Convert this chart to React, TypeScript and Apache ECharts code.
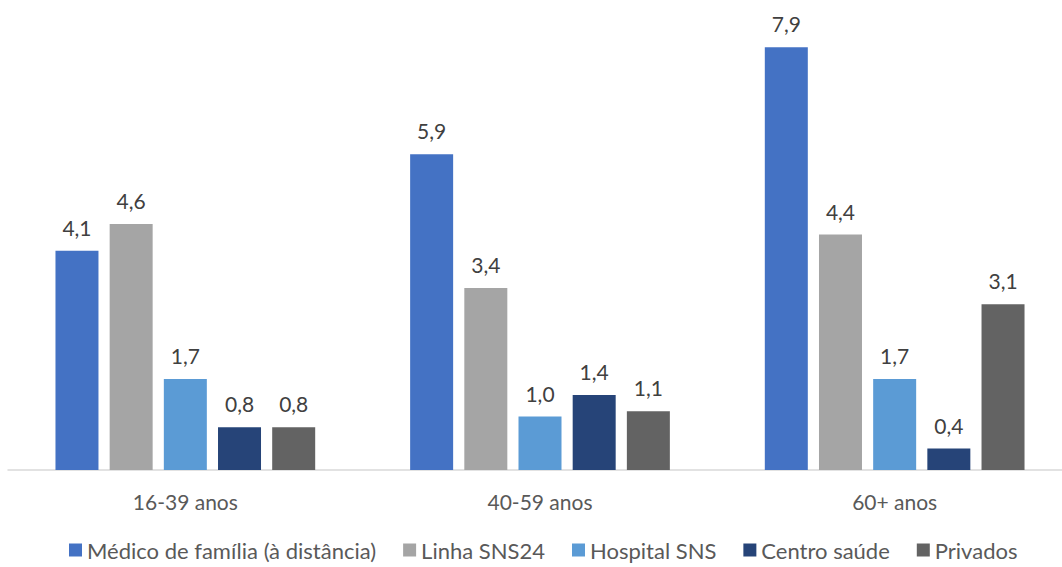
import React, { useEffect, useRef } from "react";
import * as echarts from "echarts";

const categories = ["16-39 anos", "40-59 anos", "60+ anos"];
const seriesNames = [
  "Médico de família (à distância)",
  "Linha SNS24",
  "Hospital SNS",
  "Centro saúde",
  "Privados",
];
const medicoFamilia = [4.1, 5.9, 7.9];
const linhaSNS24 = [4.6, 3.4, 4.4];
const hospitalSNS = [1.7, 1.0, 1.7];
const centroSaude = [0.8, 1.4, 0.4];
const privados = [0.8, 1.1, 3.1];
const colors = ["#4472C4", "#A5A5A5", "#5B9BD5", "#264478", "#636363"];

const FONT = "Lato, 'Open Sans', sans-serif";

export default function App() {
  const ref = useRef<HTMLDivElement>(null);
  useEffect(() => {
    if (!ref.current) return;
    const chart = echarts.init(ref.current, undefined, { renderer: "svg" });
    const dataSets = [medicoFamilia, linhaSNS24, hospitalSNS, centroSaude, privados];
    chart.setOption({
      animation: false,
      color: colors,
      textStyle: { fontFamily: FONT },
      grid: { left: 8, right: 2, top: 42, bottom: 97, containLabel: false },
      legend: {
        bottom: 1,
        left: 64,
        icon: "rect",
        itemWidth: 13,
        itemHeight: 13,
        itemGap: 27,
        textStyle: { fontSize: 22, color: "#595959", fontFamily: FONT },
        data: seriesNames,
      },
      xAxis: {
        type: "category",
        data: categories,
        axisLine: { lineStyle: { color: "#D9D9D9", width: 1.5 } },
        axisTick: { show: false },
        axisLabel: { fontSize: 21, color: "#595959", margin: 21, fontFamily: FONT },
      },
      yAxis: {
        type: "value",
        min: 0,
        max: 8,
        show: false,
        splitLine: { show: false },
      },
      series: dataSets.map((d, i) => ({
        name: seriesNames[i],
        type: "bar",
        data: d,
        barWidth: 43,
        barGap: "26%",
        label: {
          show: true,
          position: "top",
          distance: 13,
          fontSize: 21,
          color: "#404040",
          fontFamily: FONT,
          formatter: (p: any) => p.value.toFixed(1).replace(".", ","),
        },
      })),
    });
    return () => chart.dispose();
  }, []);
  return (
    <div
      style={{
        position: "absolute",
        left: 0,
        top: 0,
        width: 1062,
        height: 567,
        overflow: "hidden",
        background: "#fff",
      }}
    >
      <div ref={ref} style={{ width: 1074, height: 567 }} />
    </div>
  );
}
